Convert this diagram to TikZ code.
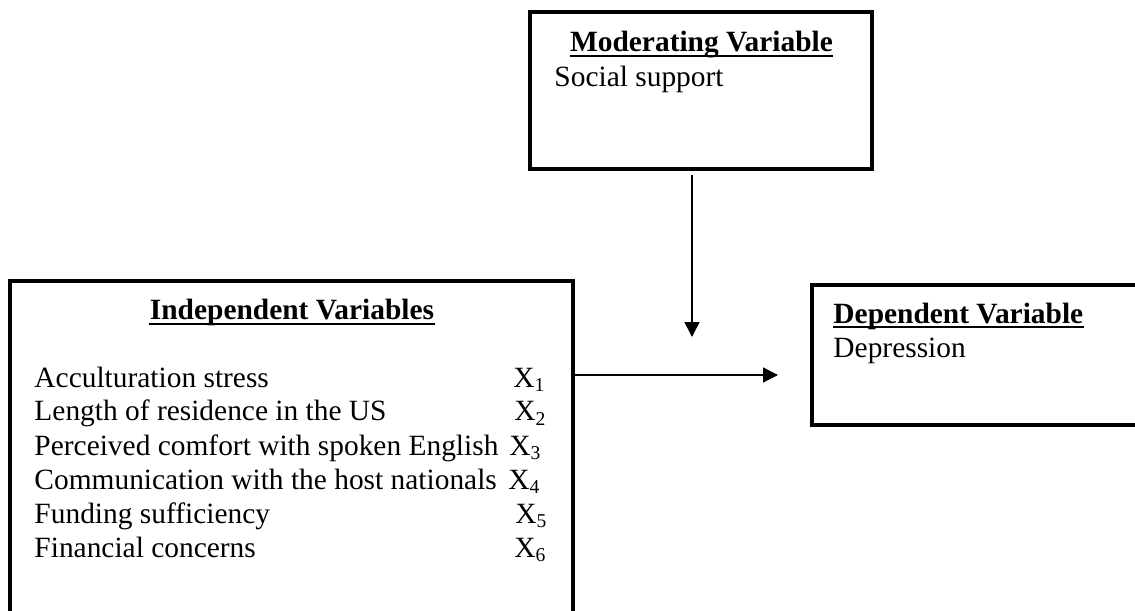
\documentclass[tikz,border=0pt]{standalone}
\usepackage{fontspec}
\setmainfont{Liberation Serif}
\usetikzlibrary{arrows.meta}
\newcommand{\px}{0.408pt}

\begin{document}
\begin{tikzpicture}[x=0.408pt,y=-0.408pt,
    varbox/.style={draw,line width=1.63pt,inner sep=0pt},
    txt/.style={inner sep=0pt,anchor=base west,font=\fontsize{12pt}{13.8pt}\selectfont},
    head/.style={txt,font=\fontsize{12pt}{13.8pt}\selectfont\bfseries},
    uline/.style={line width=0.95pt},
    arr/.style={line width=0.55pt,-{Triangle[length=6.1pt,width=6.1pt]}}]
    \clip(0,0)rectangle(1135,611);
    \node[varbox,minimum width=342*\px,minimum height=157*\px](mod)at(701,90.5){};
    \node[varbox,minimum width=563*\px,minimum height=439*\px](indep)at(291.5,500.5){};
    \node[varbox,minimum width=408*\px,minimum height=140*\px](dep)at(1016,355){};
    \node[head,anchor=base](modhead)at(701.5,52){Moderating Variable};
    \node[txt](social)at(554,86){Social support};
    \node[head,anchor=base](indhead)at(292,320){Independent Variables};
    \foreach \t/\xx [count=\i] in {Acculturation stress/513,Length of residence in the US/514,
        Perceived comfort with spoken English/509,Communication with the host nationals/508,
        Funding sufficiency/515,Financial concerns/514}{
      \node[txt](v\i)at(34,353+34*\i){\t};
      \node[txt](x\i)at(\xx,353+34*\i){X\textsubscript{\i}};
    }
    \node[head](dephead)at(833,323){Dependent Variable};
    \node[txt](depress)at(833,357){Depression};
    \foreach \h in {modhead,indhead,dephead}
      \draw[uline]([yshift=-1.7pt]\h.base west)--([yshift=-1.7pt]\h.base east);
    \coordinate(mt)at(692,337);
    \coordinate(dt)at(778,375);
    \draw[arr](mt|-mod.south)++(0,4)--(mt);
    \draw[arr](indep.east|-dt)--(dt);
  \end{tikzpicture}
\end{document}
